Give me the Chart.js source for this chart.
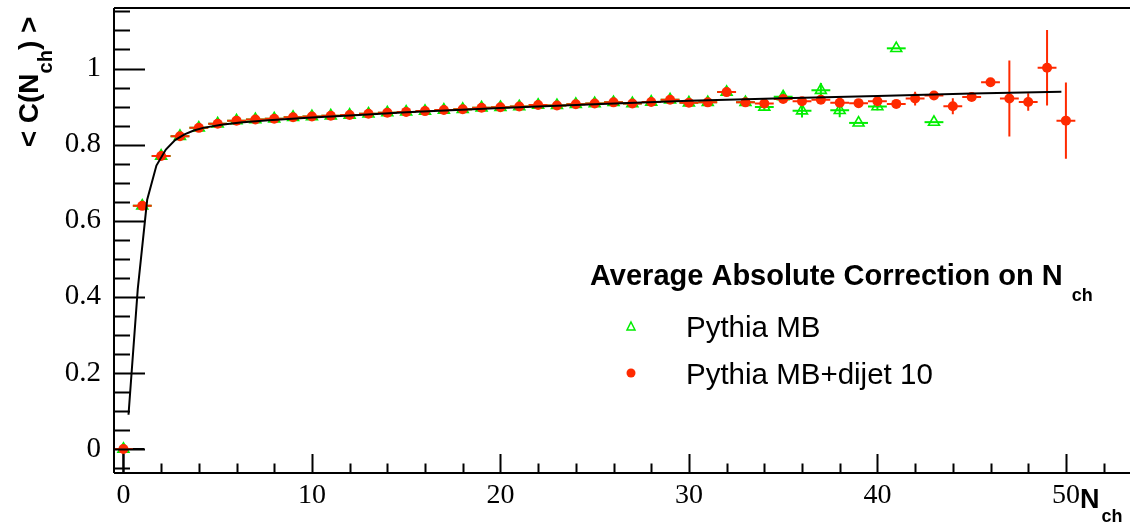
<!DOCTYPE html>
<html>
<head>
<meta charset="utf-8">
<script src="https://cdn.jsdelivr.net/npm/chart.js@4.4.0/dist/chart.umd.min.js"></script>
<style>
  html, body { margin: 0; padding: 0; background: #fff; }
  #wrap { width: 1130px; height: 527px; }
</style>
</head>
<body>
<div id="wrap"><canvas id="corrChart" width="1130" height="527"></canvas></div>
<script>
// N_ch bins
const nch = [0, 1, 2, 3, 4, 5, 6, 7, 8, 9, 10, 11, 12, 13, 14, 15, 16, 17, 18, 19, 20,
  21, 22, 23, 24, 25, 26, 27, 28, 29, 30, 31, 32, 33, 34, 35, 36, 37, 38, 39, 40,
  41, 42, 43, 44, 45, 46, 47, 48, 49, 50];

// Pythia MB+dijet 10
const corrDijet = [0.000, 0.639, 0.770, 0.822, 0.844, 0.855, 0.863, 0.866, 0.868, 0.872, 0.874,
  0.876, 0.878, 0.881, 0.884, 0.886, 0.888, 0.891, 0.893, 0.897, 0.898,
  0.900, 0.904, 0.903, 0.906, 0.908, 0.911, 0.908, 0.912, 0.918, 0.910,
  0.911, 0.938, 0.911, 0.908, 0.920, 0.914, 0.918, 0.910, 0.909, 0.914,
  0.907, 0.921, 0.929, 0.901, 0.925, 0.964, 0.921, 0.912, 1.002, 0.863];
const errDijet = [0.002, 0.002, 0.002, 0.002, 0.002, 0.002, 0.002, 0.002, 0.002, 0.002, 0.002,
  0.002, 0.002, 0.002, 0.002, 0.002, 0.002, 0.002, 0.002, 0.002, 0.002,
  0.002, 0.002, 0.002, 0.002, 0.002, 0.003, 0.003, 0.003, 0.004, 0.004,
  0.004, 0.006, 0.005, 0.006, 0.008, 0.007, 0.008, 0.007, 0.008, 0.007,
  0.006, 0.018, 0.011, 0.021, 0.008, 0.007, 0.100, 0.023, 0.099, 0.100];

// Pythia MB
const corrMB = [0.000, 0.639, 0.770, 0.822, 0.844, 0.855, 0.863, 0.866, 0.868, 0.872, 0.874,
  0.876, 0.878, 0.881, 0.884, 0.886, 0.888, 0.891, 0.893, 0.897, 0.898,
  0.900, 0.904, 0.903, 0.906, 0.908, 0.911, 0.908, 0.912, 0.918, 0.910,
  0.911, 0.938, 0.911, 0.899, 0.926, 0.889, 0.943, 0.890, 0.857, 0.900,
  1.053, null, 0.859, null, null, null, null, null, null, null];
const errMB = [0.002, 0.002, 0.002, 0.002, 0.002, 0.002, 0.002, 0.002, 0.002, 0.002, 0.002,
  0.002, 0.002, 0.002, 0.002, 0.002, 0.002, 0.002, 0.002, 0.002, 0.002,
  0.002, 0.002, 0.002, 0.002, 0.002, 0.003, 0.003, 0.003, 0.004, 0.004,
  0.004, 0.006, 0.005, 0.010, 0.015, 0.018, 0.019, 0.018, 0, 0.010,
  0, 0, 0, 0, 0, 0, 0, 0, 0, 0];

// fit curve
const fitN = [0.27, 0.76, 1.26, 1.75, 2.25, 2.74, 3.24, 3.73, 4.23, 5.2, 6.2, 7.7,
  10, 12.5, 15, 20, 25, 30, 35, 40, 45, 49.76];
const fitC = [0.09, 0.42, 0.655, 0.745, 0.787, 0.812, 0.827, 0.837, 0.844, 0.852, 0.858, 0.864,
  0.871, 0.878, 0.885, 0.896, 0.906, 0.915, 0.922, 0.928, 0.934, 0.939];

// black line in the first bin
const zeroBinX = [0, 0, 1.1];
const zeroBinY = [-0.063, 0, 0];

const xTicks = [0, 10, 20, 30, 40, 50];
const yTicks = [0, 0.2, 0.4, 0.6, 0.8, 1];

const RED = '#ff2a00';
const GREEN = '#00ee00';
const SANS = 'Liberation Sans, Arial, sans-serif';
const SERIF = 'Liberation Serif, Times New Roman, serif';

function toPoints(xs, ys) {
  const pts = [];
  xs.forEach((x, i) => { if (ys[i] !== null) pts.push({ x: x, y: ys[i] }); });
  return pts;
}
function toErrs(ys, es) {
  return es.filter((e, i) => ys[i] !== null);
}

// text with a subscript, parts drawn one after another
function drawParts(ctx, x, y, parts) {
  let cx = x;
  parts.forEach(p => {
    ctx.font = p.font;
    cx += p.dx || 0;
    ctx.fillText(p.text, cx, y + (p.dy || 0));
    cx += ctx.measureText(p.text).width;
  });
}
function partsWidth(ctx, parts) {
  let w = 0;
  parts.forEach(p => { ctx.font = p.font; w += ctx.measureText(p.text).width + (p.dx || 0); });
  return w;
}

// keep the plot frame where the picture has it
function noPad(s) {
  s.paddingTop = 0; s.paddingBottom = 0; s.paddingLeft = 0; s.paddingRight = 0;
}

const errorBars = {
  id: 'errorBars',
  beforeDatasetDraw(chart, args) {
    const ds = chart.data.datasets[args.index];
    if (!ds.errY) return;
    const ctx = chart.ctx, xs = chart.scales.x, ys = chart.scales.y;
    ctx.save();
    ctx.strokeStyle = ds.barColor;
    ctx.lineWidth = 2;
    ds.data.forEach((p, i) => {
      const px = xs.getPixelForValue(p.x), py = ys.getPixelForValue(p.y);
      ctx.beginPath();
      ctx.moveTo(xs.getPixelForValue(p.x - 0.5), py);
      ctx.lineTo(xs.getPixelForValue(p.x + 0.5), py);
      if (ds.errY[i] > 0) {
        ctx.moveTo(px, ys.getPixelForValue(p.y + ds.errY[i]));
        ctx.lineTo(px, ys.getPixelForValue(p.y - ds.errY[i]));
      }
      ctx.stroke();
    });
    ctx.restore();
  }
};

// ROOT style frame with inner ticks
const frame = {
  id: 'frame',
  afterDatasetsDraw(chart) {
    const ctx = chart.ctx, a = chart.chartArea, xs = chart.scales.x, ys = chart.scales.y;
    ctx.save();
    ctx.strokeStyle = '#000';
    ctx.lineWidth = 2;
    ctx.beginPath();
    ctx.moveTo(a.left, a.top); ctx.lineTo(a.right, a.top);
    ctx.moveTo(a.left, a.top); ctx.lineTo(a.left, a.bottom);
    ctx.moveTo(a.left, a.bottom); ctx.lineTo(a.right, a.bottom);
    // y ticks
    for (let v = -0.05; v <= 1.155; v += 0.05) {
      const py = Math.round(ys.getPixelForValue(v)) + 0.5;
      const major = Math.abs(v * 5 - Math.round(v * 5)) < 1e-6;
      ctx.moveTo(a.left, py); ctx.lineTo(a.left + (major ? 31 : 16), py);
    }
    // x ticks
    for (let n = 0; n <= 52; n += 2) {
      const px = Math.round(xs.getPixelForValue(n)) + 0.5;
      const major = n % 10 === 0;
      ctx.moveTo(px, a.bottom); ctx.lineTo(px, a.bottom - (major ? 19 : 9.5));
    }
    ctx.stroke();
    ctx.restore();
  },
  afterDraw(chart) {
    const ctx = chart.ctx;
    ctx.save();
    ctx.fillStyle = '#000';
    ctx.textBaseline = 'alphabetic';
    ctx.textAlign = 'left';

    // y title
    const yParts = [
      { text: '< C(N', font: 'bold 28px ' + SANS },
      { text: 'ch', font: 'bold 20px ' + SANS, dy: 14 },
      { text: ') >', font: 'bold 28px ' + SANS }
    ];
    ctx.translate(38, 82);
    ctx.rotate(-Math.PI / 2);
    drawParts(ctx, -partsWidth(ctx, yParts) / 2, 0, yParts);
    ctx.setTransform(1, 0, 0, 1, 0, 0);

    // x title
    drawParts(ctx, 1080, 508, [
      { text: 'N', font: 'bold 27px ' + SANS },
      { text: 'ch', font: 'bold 18px ' + SANS, dx: 2, dy: 14 }
    ]);

    // legend
    drawParts(ctx, 590, 285, [
      { text: 'Average Absolute Correction on N', font: 'bold 29px ' + SANS },
      { text: 'ch', font: 'bold 18px ' + SANS, dx: 9, dy: 16 }
    ]);
    ctx.font = '29.5px ' + SANS;
    ctx.fillText('Pythia MB', 686, 337);
    ctx.fillText('Pythia MB+dijet 10', 686, 384);

    ctx.strokeStyle = GREEN;
    ctx.lineWidth = 1.5;
    ctx.beginPath();
    ctx.moveTo(631, 322); ctx.lineTo(635, 330); ctx.lineTo(627, 330); ctx.closePath();
    ctx.stroke();
    ctx.fillStyle = RED;
    ctx.beginPath();
    ctx.arc(631, 373, 4.5, 0, Math.PI * 2);
    ctx.fill();
    ctx.restore();
  }
};

const ctx = document.getElementById('corrChart');
new Chart(ctx.getContext('2d'), {
  type: 'scatter',
  data: {
    datasets: [
      {
        label: 'fit',
        type: 'line',
        data: toPoints(fitN, fitC),
        borderColor: '#000',
        borderWidth: 2,
        pointRadius: 0,
        fill: false,
        tension: 0,
        order: 0
      },
      {
        label: 'Pythia MB+dijet 10',
        data: toPoints(nch, corrDijet),
        errY: toErrs(corrDijet, errDijet),
        barColor: RED,
        pointStyle: 'circle',
        pointRadius: 5,
        backgroundColor: RED,
        borderColor: RED,
        borderWidth: 0,
        order: 1
      },
      {
        label: 'Pythia MB',
        data: toPoints(nch, corrMB),
        errY: toErrs(corrMB, errMB),
        barColor: GREEN,
        pointStyle: 'triangle',
        pointRadius: 6.3,
        backgroundColor: 'rgba(255,255,255,0)',
        borderColor: GREEN,
        borderWidth: 1.6,
        order: 2
      },
      {
        label: 'first bin',
        type: 'line',
        data: toPoints(zeroBinX, zeroBinY),
        borderColor: '#000',
        borderWidth: 2,
        pointRadius: 0,
        fill: false,
        order: 3
      }
    ]
  },
  options: {
    responsive: false,
    animation: false,
    devicePixelRatio: 1,
    layout: { autoPadding: false, padding: { top: 8, right: 0, bottom: 0, left: 0 } },
    plugins: {
      legend: { display: false },
      tooltip: { enabled: false }
    },
    scales: {
      x: {
        type: 'linear',
        min: -0.5,
        max: 53.4,
        grid: { display: false, drawTicks: false },
        border: { display: false },
        afterBuildTicks: s => { s.ticks = xTicks.map(v => ({ value: v })); },
        afterFit: s => { s.height = 54; noPad(s); },
        ticks: {
          color: '#000',
          font: { family: SERIF, size: 28 },
          padding: 6,
          maxRotation: 0,
          autoSkip: false,
          callback: v => String(v)
        }
      },
      y: {
        type: 'linear',
        min: -0.063,
        max: 1.159,
        grid: { display: false, drawTicks: false },
        border: { display: false },
        afterBuildTicks: s => { s.ticks = yTicks.map(v => ({ value: v })); },
        afterFit: s => { s.width = 114; noPad(s); },
        ticks: {
          color: '#000',
          font: { family: SERIF, size: 29 },
          padding: 13,
          autoSkip: false,
          callback: v => String(v)
        }
      }
    }
  },
  plugins: [errorBars, frame]
});
</script>
</body>
</html>
